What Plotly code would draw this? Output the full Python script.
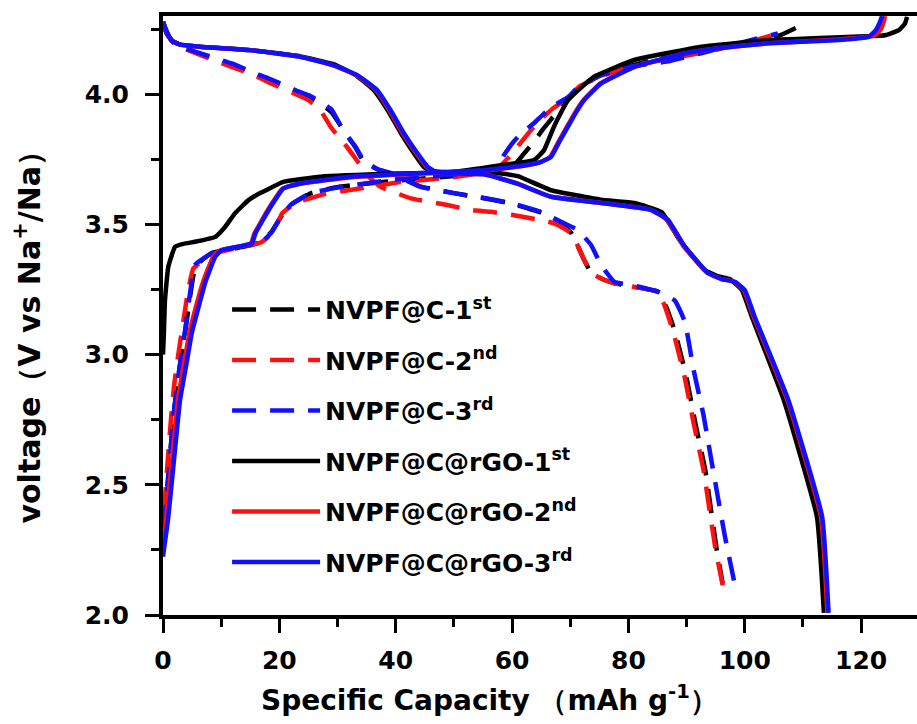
import plotly.graph_objects as go

# ---------------- data (Specific Capacity mAh/g, Voltage V) ----------------
# NVPF@C - 1st cycle (black dashed)
c1_chg_x = [0, 0.6, 1.2, 1.8, 2.4, 3.0, 3.9, 4.7, 5.6, 8.4, 12.9, 16.5, 18.6, 20.3, 22.3, 25.5, 30.5, 39, 49.5, 56, 59, 60.5, 62, 63.5, 65.5, 67.5, 69.5, 72, 76, 84, 90, 96, 102, 106.5, 109.8]
c1_chg_y = [2.35, 2.46, 2.61, 2.76, 2.88, 2.97, 3.10, 3.23, 3.34, 3.39, 3.41, 3.43, 3.47, 3.53, 3.58, 3.62, 3.645, 3.665, 3.685, 3.70, 3.71, 3.73, 3.77, 3.81, 3.87, 3.925, 3.975, 4.035, 4.08, 4.13, 4.155, 4.177, 4.20, 4.23, 4.265]
c1_dis_x = [0, 0.6, 2.1, 5.5, 11.8, 15.9, 18.1, 22.8, 25, 27, 29, 30.5, 32, 33.1, 34.5, 37, 39.1, 44.3, 50, 55.2, 59.8, 65, 68.2, 70.2, 72.4, 73.6, 75.5, 77.6, 80.5, 85.1, 86.5, 88, 90, 91.5, 93.2, 95.1, 96.2]
c1_dis_y = [4.277, 4.235, 4.192, 4.16, 4.112, 4.076, 4.055, 4.01, 3.99, 3.965, 3.93, 3.88, 3.83, 3.795, 3.74, 3.71, 3.695, 3.645, 3.62, 3.60, 3.58, 3.545, 3.51, 3.466, 3.363, 3.313, 3.29, 3.274, 3.262, 3.241, 3.183, 3.088, 2.91, 2.737, 2.557, 2.262, 2.12]

# NVPF@C - 2nd cycle (red dashed)
c2_chg_x = [0, 0.4, 0.9, 1.4, 1.9, 2.5, 3.3, 4.2, 5.2, 8.4, 12.9, 16.8, 18.1, 19.9, 20.5, 22.8, 27.6, 33, 40, 49.5, 55.5, 58, 59.5, 61, 62.8, 64.8, 67, 69.5, 71.6, 75.5, 81, 87, 94, 101.5, 104.5]
c2_chg_y = [2.40, 2.47, 2.62, 2.76, 2.88, 2.98, 3.10, 3.23, 3.33, 3.385, 3.41, 3.43, 3.452, 3.516, 3.543, 3.582, 3.615, 3.635, 3.66, 3.68, 3.70, 3.725, 3.76, 3.80, 3.85, 3.90, 3.945, 3.985, 4.03, 4.07, 4.11, 4.135, 4.165, 4.205, 4.225]
c2_dis_x = [0, 0.6, 2.1, 5.5, 11.8, 15.9, 18.1, 22.8, 25, 27, 28.8, 30.2, 31.6, 33.5, 35.5, 37.4, 42.6, 48.9, 52.9, 56.4, 60.1, 65, 67.2, 70.2, 72.4, 73.6, 75.5, 77.6, 80.5, 85.1, 86.3, 87.7, 89.7, 91.2, 92.9, 94.9, 96.6]
c2_dis_y = [4.277, 4.235, 4.19, 4.158, 4.105, 4.07, 4.046, 4.0, 3.977, 3.94, 3.875, 3.835, 3.798, 3.74, 3.68, 3.644, 3.60, 3.574, 3.555, 3.548, 3.536, 3.516, 3.504, 3.466, 3.363, 3.313, 3.29, 3.274, 3.262, 3.241, 3.183, 3.088, 2.91, 2.737, 2.557, 2.262, 2.07]

# NVPF@C - 3rd cycle (blue dashed)
c3_chg_x = [0, 0.6, 1.2, 1.7, 2.4, 2.9, 3.8, 4.6, 5.5, 8.4, 12.9, 17.0, 18.7, 19.9, 21.9, 25.3, 30.5, 39, 49.5, 55, 57.5, 58.6, 60, 61.6, 63.8, 65.5, 67.5, 69.7, 71.4, 75, 80, 86.6, 93, 101, 105.7]
c3_chg_y = [2.33, 2.44, 2.60, 2.75, 2.875, 2.96, 3.094, 3.228, 3.344, 3.389, 3.413, 3.433, 3.47, 3.515, 3.574, 3.62, 3.643, 3.67, 3.69, 3.705, 3.73, 3.766, 3.81, 3.85, 3.889, 3.925, 3.96, 3.99, 4.028, 4.07, 4.105, 4.125, 4.16, 4.207, 4.233]
c3_dis_x = [0, 0.6, 2.1, 5.5, 11.8, 15.9, 18.1, 22.8, 25, 27, 29, 30.5, 32, 33.1, 34.5, 37, 39.1, 44.3, 50, 55.2, 59.8, 65, 68.4, 71.3, 73.6, 75.3, 77.6, 80.5, 85.1, 87.9, 89.7, 91.2, 92.9, 94.3, 96.6, 98.3]
c3_dis_y = [4.277, 4.235, 4.192, 4.163, 4.118, 4.080, 4.061, 4.015, 3.996, 3.972, 3.94, 3.88, 3.83, 3.798, 3.745, 3.71, 3.697, 3.644, 3.62, 3.601, 3.582, 3.548, 3.51, 3.478, 3.42, 3.344, 3.279, 3.267, 3.241, 3.209, 3.126, 2.941, 2.768, 2.588, 2.30, 2.115]

# NVPF@C@rGO - 1st cycle (black solid)
g1_chg_x = [0, 0.15, 0.34, 0.91, 2.07, 3.5, 5.5, 9.0, 10.7, 12.4, 14.7, 16.7, 20.7, 27.1, 40, 49.5, 58.1, 63.8, 65.5, 67.2, 69.6, 74.1, 81, 92.6, 104, 118.4, 124.1, 126.5, 127.5, 127.9]
g1_chg_y = [3.0, 3.08, 3.209, 3.337, 3.414, 3.425, 3.433, 3.452, 3.491, 3.543, 3.593, 3.620, 3.663, 3.683, 3.695, 3.70, 3.727, 3.747, 3.785, 3.875, 3.977, 4.067, 4.131, 4.182, 4.207, 4.22, 4.226, 4.246, 4.27, 4.297]
g1_dis_x = [0, 0.64, 1.5, 3, 6.4, 15, 23.6, 29.3, 33.0, 36.2, 38.6, 40.9, 43.1, 44.8, 46.0, 49, 55.2, 58.1, 61, 66.7, 75.3, 81, 85.7, 88.8, 93.1, 95.5, 97.4, 99.5, 101.2, 106.7, 112.4, 113.6]
g1_dis_y = [4.277, 4.24, 4.205, 4.19, 4.182, 4.169, 4.145, 4.115, 4.075, 4.016, 3.939, 3.85, 3.774, 3.721, 3.705, 3.70, 3.70, 3.695, 3.685, 3.631, 3.595, 3.582, 3.547, 3.44, 3.325, 3.30, 3.29, 3.248, 3.145, 2.825, 2.377, 2.008]

# NVPF@C@rGO - 2nd cycle (red solid)
g2_chg_x = [0, 0.3, 0.6, 1.4, 2.6, 3.6, 4.6, 5.8, 6.9, 8.6, 9.8, 12.7, 15.1, 15.7, 16.8, 18.1, 20.5, 23.4, 32, 43.5, 55, 59.8, 62.8, 64.8, 66.5, 68, 69.4, 70.8, 72.2, 75.1, 80.8, 89.5, 96, 104, 116, 122.3, 123.4, 123.9, 124.1]
g2_chg_y = [2.26, 2.31, 2.38, 2.56, 2.83, 2.965, 3.09, 3.195, 3.28, 3.375, 3.40, 3.413, 3.426, 3.464, 3.508, 3.558, 3.636, 3.655, 3.68, 3.694, 3.706, 3.718, 3.728, 3.738, 3.757, 3.818, 3.873, 3.928, 3.975, 4.04, 4.103, 4.155, 4.177, 4.195, 4.21, 4.225, 4.25, 4.28, 4.30]
g2_dis_x = [0, 0.64, 1.5, 3, 6.4, 15, 23.6, 29.1, 33.2, 36.6, 38.9, 41.2, 43.5, 45.3, 46.6, 49, 55, 58, 61, 66.5, 75.1, 83.8, 86.6, 89.5, 93.5, 95.8, 98.1, 99.8, 101.5, 107.3, 113.1, 114.2]
g2_dis_y = [4.277, 4.24, 4.205, 4.19, 4.182, 4.169, 4.143, 4.111, 4.073, 4.016, 3.939, 3.85, 3.774, 3.721, 3.702, 3.697, 3.693, 3.676, 3.656, 3.607, 3.583, 3.556, 3.518, 3.415, 3.314, 3.292, 3.28, 3.249, 3.146, 2.826, 2.378, 2.008]

# NVPF@C@rGO - 3rd cycle (blue solid)
g3_chg_x = [0, 0.4, 0.86, 1.72, 2.93, 4.0, 4.95, 6.2, 7.24, 8.97, 10.1, 12.9, 15.3, 15.9, 17.0, 18.3, 20.7, 23.6, 32.2, 43.7, 55.2, 60, 63, 65, 66.7, 68.2, 69.6, 71, 72.4, 75.3, 81, 89.7, 96, 104, 115.5, 121.3, 122.5, 123.2, 123.6]
g3_chg_y = [2.224, 2.29, 2.365, 2.557, 2.825, 2.96, 3.083, 3.19, 3.275, 3.375, 3.401, 3.414, 3.428, 3.466, 3.51, 3.56, 3.638, 3.657, 3.683, 3.696, 3.708, 3.72, 3.73, 3.74, 3.759, 3.82, 3.875, 3.93, 3.977, 4.041, 4.105, 4.156, 4.178, 4.195, 4.207, 4.22, 4.245, 4.275, 4.30]
g3_dis_x = [0, 0.64, 1.5, 3, 6.4, 15, 23.6, 29.3, 33.4, 36.8, 39.1, 41.4, 43.7, 45.5, 46.8, 49, 55.2, 58.1, 61, 66.7, 75.3, 84.0, 86.8, 89.7, 93.7, 96, 98.3, 100, 101.7, 107.5, 113.3, 114.4]
g3_dis_y = [4.277, 4.24, 4.205, 4.19, 4.182, 4.169, 4.143, 4.111, 4.073, 4.016, 3.939, 3.85, 3.774, 3.721, 3.702, 3.697, 3.692, 3.675, 3.655, 3.606, 3.582, 3.555, 3.517, 3.414, 3.313, 3.29, 3.279, 3.248, 3.145, 2.825, 2.377, 2.008]

series_names = ["NVPF@C-1<sup>st</sup>", "NVPF@C-2<sup>nd</sup>", "NVPF@C-3<sup>rd</sup>",
                "NVPF@C@rGO-1<sup>st</sup>", "NVPF@C@rGO-2<sup>nd</sup>", "NVPF@C@rGO-3<sup>rd</sup>"]
x_ticks = [0, 20, 40, 60, 80, 100, 120]
y_ticks = [2.0, 2.5, 3.0, 3.5, 4.0]

# ---------------- figure ----------------
BLACK, RED, BLUE = "#000000", "#ff1010", "#1010ff"
DASH = "24px,14px"
curves = [
    (c1_chg_x, c1_chg_y, c1_dis_x, c1_dis_y, BLACK, DASH),
    (c2_chg_x, c2_chg_y, c2_dis_x, c2_dis_y, RED, DASH),
    (c3_chg_x, c3_chg_y, c3_dis_x, c3_dis_y, BLUE, DASH),
    (g1_chg_x, g1_chg_y, g1_dis_x, g1_dis_y, BLACK, "solid"),
    (g2_chg_x, g2_chg_y, g2_dis_x, g2_dis_y, RED, "solid"),
    (g3_chg_x, g3_chg_y, g3_dis_x, g3_dis_y, BLUE, "solid"),
]

fig = go.Figure()
for i, (cx, cy, dx, dy, color, dash) in enumerate(curves):
    for j, (xx, yy) in enumerate([(cx, cy), (dx, dy)]):
        fig.add_trace(go.Scatter(
            x=xx, y=yy, mode="lines", name=series_names[i],
            legendgroup=f"g{i}", showlegend=(j == 0),
            line=dict(color=color, width=4.5, dash=dash, shape="spline", smoothing=0.35),
        ))

FONT = "DejaVu Sans"
axis_common = dict(
    showline=True, linewidth=4, linecolor="black",
    ticks="outside", tickwidth=3, tickcolor="black", ticklen=14,
    showgrid=False, zeroline=False,
    tickfont=dict(family=FONT, size=25, color="black", weight="bold"),
)
fig.update_xaxes(
    range=[0, 129.6], tickvals=x_ticks, mirror=True, ticklabelstandoff=6,
    minor=dict(dtick=10, tick0=0, ticks="outside", ticklen=8, tickwidth=3, tickcolor="black", showgrid=False),
    **axis_common,
)
fig.update_yaxes(
    range=[2.0, 4.30], tickvals=y_ticks, tickformat=".1f", mirror=False, ticklabelstandoff=11,
    minor=dict(dtick=0.25, tick0=2.0, ticks="outside", ticklen=8, tickwidth=3, tickcolor="black", showgrid=False),
    **axis_common,
)

fig.add_annotation(
    text="Specific Capacity （mAh g<sup>-1</sup>）", xref="paper", yref="paper",
    x=0.433, y=-0.139, xanchor="center", yanchor="middle", showarrow=False,
    font=dict(family=FONT, size=28, color="black", weight="bold"),
)
fig.add_annotation(
    text="voltage（V vs Na<sup>+</sup>/Na）", xref="paper", yref="paper",
    x=-0.18, y=0.477, xanchor="center", yanchor="middle", showarrow=False, textangle=-90,
    font=dict(family=FONT, size=30, color="black", weight="bold"),
)

fig.update_layout(
    width=917, height=724,
    margin=dict(l=163, r=0, t=16, b=109),
    paper_bgcolor="white", plot_bgcolor="white",
    showlegend=True,
    legend=dict(
        x=0.085, y=0.548, xanchor="left", yanchor="top",
        bgcolor="rgba(0,0,0,0)", borderwidth=0,
        font=dict(family=FONT, size=25, color="black", weight="bold"),
        itemwidth=88, tracegroupgap=15, traceorder="grouped",
    ),
)

fig.write_html("out.html")
